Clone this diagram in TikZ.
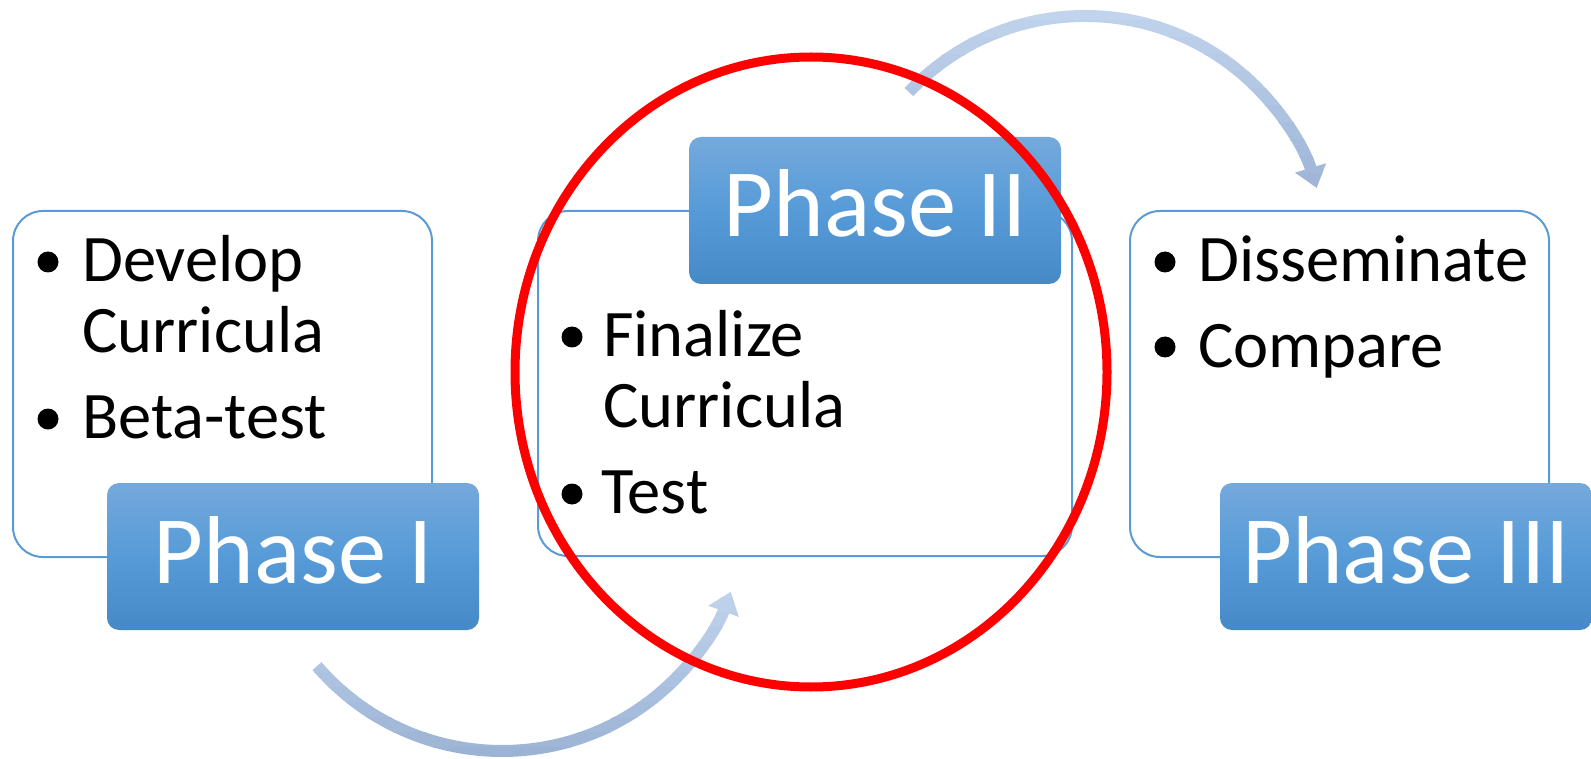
\documentclass[tikz,border=0pt]{standalone}
\usepackage{fontspec}
\setmainfont{Carlito}
\usetikzlibrary{arrows.meta,shapes.geometric}
\definecolor{boxline}{RGB}{91,155,213}
\definecolor{tabtop}{RGB}{117,169,220}
\definecolor{tabmid}{RGB}{86,155,216}
\definecolor{tabbot}{RGB}{70,137,199}
\definecolor{arrlight}{RGB}{194,212,237}
\definecolor{arrdark}{RGB}{155,179,213}
\definecolor{redring}{RGB}{255,0,0}
\tikzset{
  whitebox/.style={draw=boxline, line width=2pt, fill=white, rounded corners=30pt, inner sep=0pt},
  tabbox/.style={rounded corners=12pt, top color=tabtop, bottom color=tabbot, middle color=tabmid,
    minimum width=372pt, minimum height=147pt, inner sep=0pt, text=white,
    font=\fontsize{96.5}{100}\selectfont, text height=53pt, text depth=0pt},
  itemtext/.style={anchor=base west, inner sep=0pt, font=\fontsize{66.5}{70}\selectfont},
  dot/.style={circle, fill=black, minimum size=21pt, inner sep=0pt},
  flow/.style={line width=12pt, -{Triangle[length=21pt,width=31pt]}},
  ring/.style={draw=redring, line width=9pt, ellipse, inner sep=0pt, minimum width=592pt, minimum height=630pt},
}
\begin{document}
\begin{tikzpicture}[x=1pt,y=-1pt]
\useasboundingbox (0,0) rectangle (1591,759);
% boxes
\node[whitebox, minimum width=419pt, minimum height=346pt] (box1) at (222.5,384) {};
\node[whitebox, minimum width=534pt, minimum height=345pt] (box2) at (805,383.5) {};
\node[whitebox, minimum width=419pt, minimum height=346pt] (box3) at (1339.5,384) {};
% tabs
\node[tabbox] (tab1) at (293,556.5) {Phase I};
\node[tabbox] (tab2) at (875,210.5) {Phase II};
\node[tabbox] (tab3) at (1406,556.5) {Phase III};
% box 1 items
\node[dot] (b1a) at (48,262) {};
\node[itemtext] (t1a) at (82,282) {Develop};
\node[itemtext] (t1b) at (82,353) {Curricula};
\node[dot] (b1c) at (48,419) {};
\node[itemtext] (t1c) at (82,438) {Beta-test};
% box 2 items
\node[dot] (b2a) at (572,337) {};
\node[itemtext] (t2a) at (603,357) {Finalize};
\node[itemtext] (t2b) at (603,428) {Curricula};
\node[dot] (b2c) at (572,494) {};
\node[itemtext] (t2c) at (601,513) {Test};
% box 3 items
\node[dot] (b3a) at (1165,262) {};
\node[itemtext] (t3a) at (1198,282) {Disseminate};
\node[dot] (b3b) at (1165,347) {};
\node[itemtext] (t3b) at (1198,367) {Compare};
% curved arrows
\coordinate (a1s) at (317.0,666.1);
\coordinate (a2s) at (908.9,92.0);
\foreach \k in {0,...,11}{
  \pgfmathtruncatemacro\p{100*\k/11}
  \begin{scope}
    \clip (0,{582+\k*15}) rectangle (1591,{582+\k*15+15.6});
    \draw[flow, draw=arrdark!\p!arrlight] (a1s) arc[start angle=139.3, end angle=20.3, radius=244];
  \end{scope}
  \begin{scope}
    \clip (0,{4+\k*17}) rectangle (1591,{4+\k*17+17.6});
    \draw[flow, draw=arrdark!\p!arrlight] (a2s) arc[start angle=-136.7, end angle=-16.8, radius=242];
  \end{scope}
}
% red ring
\node[ring] (focus) at (811,372) {};
\end{tikzpicture}
\end{document}
